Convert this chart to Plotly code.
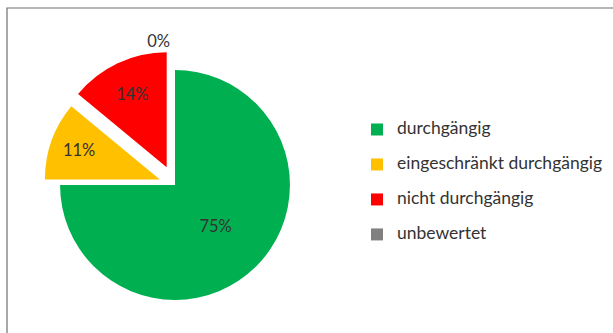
import plotly.graph_objects as go

# Bewertung der Durchgängigkeit
categories = ["durchgängig", "eingeschränkt durchgängig", "nicht durchgängig", "unbewertet"]
shares = [75, 11, 14, 0]
colors = ["#00B050", "#FFC000", "#FF0000", "#808080"]
pulls = [0.0, 0.14, 0.17, 0.17]
text_pos = ["inside", "inside", "inside", "outside"]

W, H = 613, 333

# legend entries: larger text on a two-line entry gives the wider row spacing
legend_labels = [f"<span style='font-size:17.5px'>{c}</span><br> " for c in categories]

fig = go.Figure(
    go.Pie(
        labels=legend_labels,
        values=shares,
        sort=False,
        direction="clockwise",
        rotation=0,
        pull=pulls,
        marker=dict(colors=colors, line=dict(width=0)),
        texttemplate="%{percent:.0%}",
        textposition=text_pos,
        insidetextorientation="horizontal",
        textfont=dict(family="Lato", size=16.5, color="#333333"),
        domain=dict(x=[40.5 / W, 309.5 / W], y=[1 - 319.5 / H, 1 - 50.5 / H]),
        hoverinfo="label+percent",
        showlegend=True,
    )
)

fig.update_layout(
    width=W,
    height=H,
    margin=dict(l=0, r=0, t=0, b=0, autoexpand=False),
    paper_bgcolor="white",
    font=dict(family="Lato", color="#333333"),
    legend=dict(
        x=357 / W,
        xanchor="left",
        y=1 - 115 / H,
        yanchor="top",
        font=dict(family="Lato", size=12.3, color="#333333"),
        valign="top",
        bgcolor="rgba(0,0,0,0)",
    ),
    shapes=[
        dict(
            type="rect",
            xref="paper",
            yref="paper",
            x0=7 / W,
            x1=1.05,
            y0=-0.05,
            y1=1 - 8 / H,
            line=dict(color="#6f6f6f", width=1.2),
            fillcolor="rgba(0,0,0,0)",
        )
    ],
)

fig.write_html("out.html")
